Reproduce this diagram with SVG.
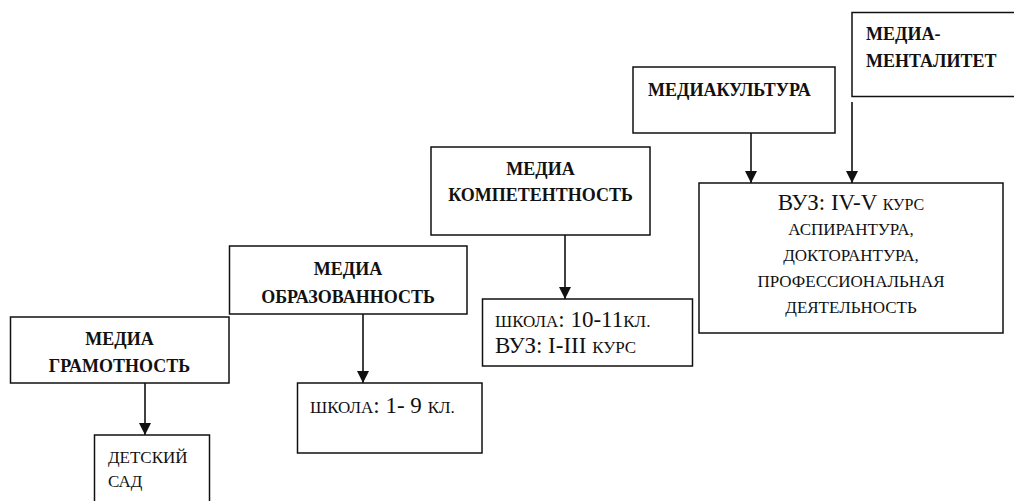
<svg xmlns="http://www.w3.org/2000/svg" width="1014" height="501" viewBox="0 0 1014 501">
<style>
.box{fill:#fff;stroke:#111;stroke-width:1.5}
.b{font-family:"Liberation Serif","Times New Roman",serif;font-weight:bold;font-size:18px;fill:#111}
.r{font-family:"Liberation Serif","Times New Roman",serif;font-size:17px;fill:#111}
.big{font-size:23px}
.sm{font-size:17px}
.sm2{font-size:16px}
.c{text-anchor:middle}
.con{stroke:#111;stroke-width:1.6;fill:none}
</style>
<defs>
<marker id="ah" viewBox="0 0 12 12" refX="12" refY="6" markerWidth="12" markerHeight="12" markerUnits="userSpaceOnUse" orient="auto">
<path d="M0,0 L12,6 L0,12 Z" fill="#111"/>
</marker>
</defs>
<rect width="1014" height="501" fill="#fff"/>
<g id="connectors">
<line class="con" x1="145" y1="383" x2="145" y2="435" marker-end="url(#ah)"/>
<line class="con" x1="363" y1="314" x2="363" y2="383" marker-end="url(#ah)"/>
<line class="con" x1="565" y1="235" x2="565" y2="299" marker-end="url(#ah)"/>
<line class="con" x1="751" y1="133" x2="751" y2="183" marker-end="url(#ah)"/>
<line class="con" x1="852" y1="102" x2="852" y2="183" marker-end="url(#ah)"/>
</g>
<g id="n-gramotnost">
<rect class="box" x="10.5" y="317" width="218.5" height="66"/>
<text class="b c" x="119.5" y="345">МЕДИА</text>
<text class="b c" x="119.5" y="372">ГРАМОТНОСТЬ</text>
</g>
<g id="n-detsad">
<rect class="box" x="94.5" y="435" width="115" height="80"/>
<text class="r" x="108" y="463">ДЕТСКИЙ</text>
<text class="r" x="108" y="487">САД</text>
</g>
<g id="n-obrazovannost">
<rect class="box" x="229.5" y="246" width="237.5" height="68"/>
<text class="b c" x="348" y="275">МЕДИА</text>
<text class="b c" x="348" y="303">ОБРАЗОВАННОСТЬ</text>
</g>
<g id="n-shkola19">
<rect class="box" x="297.5" y="383" width="184.5" height="70"/>
<text class="r" x="310" y="413"><tspan class="sm">ШКОЛА</tspan><tspan class="big">: 1- 9 </tspan><tspan class="sm">КЛ.</tspan></text>
</g>
<g id="n-kompetentnost">
<rect class="box" x="431" y="147" width="219" height="88"/>
<text class="b c" x="540.5" y="175">МЕДИА</text>
<text class="b c" x="540.5" y="201">КОМПЕТЕНТНОСТЬ</text>
</g>
<g id="n-shkola1011">
<rect class="box" x="482.5" y="299" width="210" height="67"/>
<text class="r" x="495" y="327"><tspan class="sm">ШКОЛА</tspan><tspan class="big">: 10-11</tspan><tspan class="sm">КЛ.</tspan></text>
<text class="r" x="495" y="353"><tspan class="big">ВУЗ: I-III </tspan><tspan class="sm">КУРС</tspan></text>
</g>
<g id="n-mediakultura">
<rect class="box" x="633" y="67" width="202" height="66"/>
<text class="b" x="648" y="96">МЕДИАКУЛЬТУРА</text>
</g>
<g id="n-mentalitet">
<rect class="box" x="852" y="12.5" width="170" height="84"/>
<text class="b" x="866" y="40">МЕДИА-</text>
<text class="b" x="866" y="67">МЕНТАЛИТЕТ</text>
</g>
<g id="n-vuz">
<rect class="box" x="699" y="183" width="304" height="150"/>
<text class="r c" x="851" y="210"><tspan class="big">ВУЗ: IV-V </tspan><tspan class="sm2">КУРС</tspan></text>
<text class="r c" x="851" y="235">АСПИРАНТУРА,</text>
<text class="r c" x="851" y="261">ДОКТОРАНТУРА,</text>
<text class="r c" x="851" y="287">ПРОФЕССИОНАЛЬНАЯ</text>
<text class="r c" x="851" y="313">ДЕЯТЕЛЬНОСТЬ</text>
</g>
</svg>
